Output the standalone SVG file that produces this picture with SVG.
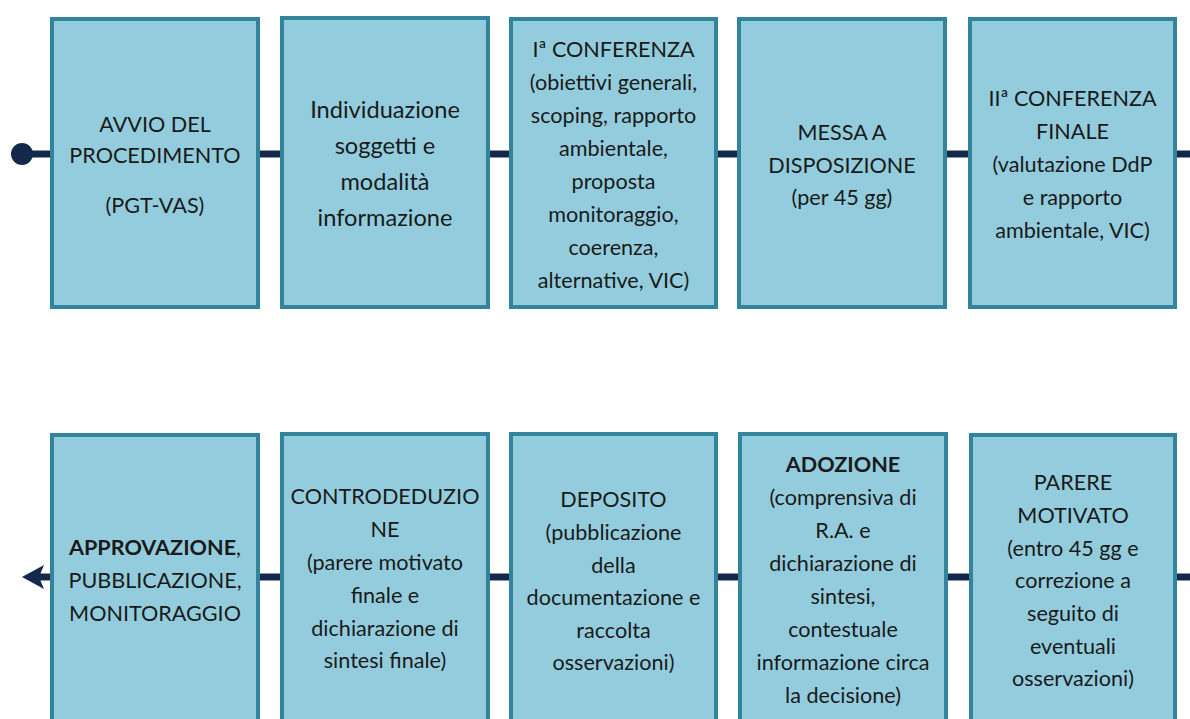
<svg xmlns="http://www.w3.org/2000/svg" width="1190" height="719" viewBox="0 0 1190 719">
<style>
.box{fill:#93CDDD;stroke:#31849B;stroke-width:4}
.t{font-family:Lato,"Liberation Sans",sans-serif;font-size:21.6px;fill:#1a1a1a;text-anchor:middle}
.big{font-size:23.6px}
.b{font-weight:bold}
.ln{stroke:#14284B;stroke-width:7;fill:none}
</style>
<rect width="1190" height="719" fill="#ffffff"/>
<g id="connectors">
<circle cx="22" cy="154" r="11" fill="#14284B"/>
<line class="ln" x1="22" y1="154" x2="52" y2="154"/>
<line class="ln" x1="258" y1="154" x2="282" y2="154"/>
<line class="ln" x1="488" y1="154" x2="511" y2="154"/>
<line class="ln" x1="716" y1="154" x2="739" y2="154"/>
<line class="ln" x1="945" y1="154" x2="970" y2="154"/>
<line class="ln" x1="1175" y1="154" x2="1190" y2="154"/>
<line class="ln" x1="1190" y1="577" x2="1175" y2="577"/>
<line class="ln" x1="970" y1="577" x2="946" y2="577"/>
<line class="ln" x1="740" y1="577" x2="716" y2="577"/>
<line class="ln" x1="511" y1="577" x2="488" y2="577"/>
<line class="ln" x1="282" y1="577" x2="258" y2="577"/>
<line class="ln" x1="52" y1="577" x2="38" y2="577"/>
<polygon points="22,577 44,565 39,577 44,589" fill="#14284B"/>
</g>
<g id="n1">
<rect class="box" x="52" y="19" width="206" height="288"/>
<text class="t" x="155" y="132">AVVIO DEL</text>
<text class="t" x="155" y="163">PROCEDIMENTO</text>
<text class="t" x="155" y="213">(PGT-VAS)</text>
</g>
<g id="n2">
<rect class="box" x="282" y="18" width="206" height="289"/>
<text class="t big" x="385" y="118">Individuazione</text>
<text class="t big" x="385" y="154">soggetti e</text>
<text class="t big" x="385" y="190">modalità</text>
<text class="t big" x="385" y="226">informazione</text>
</g>
<g id="n3">
<rect class="box" x="511" y="19" width="205" height="288"/>
<text class="t" x="613.5" y="57">Iª CONFERENZA</text>
<text class="t" x="613.5" y="90">(obiettivi generali,</text>
<text class="t" x="613.5" y="123">scoping, rapporto</text>
<text class="t" x="613.5" y="156">ambientale,</text>
<text class="t" x="613.5" y="189">proposta</text>
<text class="t" x="613.5" y="222">monitoraggio,</text>
<text class="t" x="613.5" y="255">coerenza,</text>
<text class="t" x="613.5" y="288">alternative, VIC)</text>
</g>
<g id="n4">
<rect class="box" x="739" y="19" width="206" height="288"/>
<text class="t" x="842" y="140">MESSA A</text>
<text class="t" x="842" y="173">DISPOSIZIONE</text>
<text class="t" x="842" y="205">(per 45 gg)</text>
</g>
<g id="n5">
<rect class="box" x="970" y="19" width="205" height="288"/>
<text class="t" x="1072.5" y="106">IIª CONFERENZA</text>
<text class="t" x="1072.5" y="139">FINALE</text>
<text class="t" x="1072.5" y="172">(valutazione DdP</text>
<text class="t" x="1072.5" y="205">e rapporto</text>
<text class="t" x="1072.5" y="238">ambientale, VIC)</text>
</g>
<g id="n6">
<rect class="box" x="971" y="435" width="204" height="310"/>
<text class="t" x="1073" y="490">PARERE</text>
<text class="t" x="1073" y="523">MOTIVATO</text>
<text class="t" x="1073" y="556">(entro 45 gg e</text>
<text class="t" x="1073" y="588">correzione a</text>
<text class="t" x="1073" y="621">seguito di</text>
<text class="t" x="1073" y="654">eventuali</text>
<text class="t" x="1073" y="686">osservazioni)</text>
</g>
<g id="n7">
<rect class="box" x="740" y="434" width="206" height="310"/>
<text class="t b" x="843" y="472">ADOZIONE</text>
<text class="t" x="843" y="505">(comprensiva di</text>
<text class="t" x="843" y="538">R.A. e</text>
<text class="t" x="843" y="571">dichiarazione di</text>
<text class="t" x="843" y="604">sintesi,</text>
<text class="t" x="843" y="637">contestuale</text>
<text class="t" x="843" y="670">informazione circa</text>
<text class="t" x="843" y="703">la decisione)</text>
</g>
<g id="n8">
<rect class="box" x="511" y="434" width="205" height="310"/>
<text class="t" x="613.5" y="507">DEPOSITO</text>
<text class="t" x="613.5" y="540">(pubblicazione</text>
<text class="t" x="613.5" y="573">della</text>
<text class="t" x="613.5" y="605">documentazione e</text>
<text class="t" x="613.5" y="638">raccolta</text>
<text class="t" x="613.5" y="670">osservazioni)</text>
</g>
<g id="n9">
<rect class="box" x="282" y="434" width="206" height="310"/>
<text class="t" x="385" y="504">CONTRODEDUZIO</text>
<text class="t" x="385" y="537">NE</text>
<text class="t" x="385" y="570">(parere motivato</text>
<text class="t" x="385" y="603">finale e</text>
<text class="t" x="385" y="636">dichiarazione di</text>
<text class="t" x="385" y="668">sintesi finale)</text>
</g>
<g id="n10">
<rect class="box" x="52" y="435" width="206" height="310"/>
<text class="t" x="155" y="555"><tspan class="b">APPROVAZIONE</tspan>,</text>
<text class="t" x="155" y="588">PUBBLICAZIONE,</text>
<text class="t" x="155" y="621">MONITORAGGIO</text>
</g>
</svg>
